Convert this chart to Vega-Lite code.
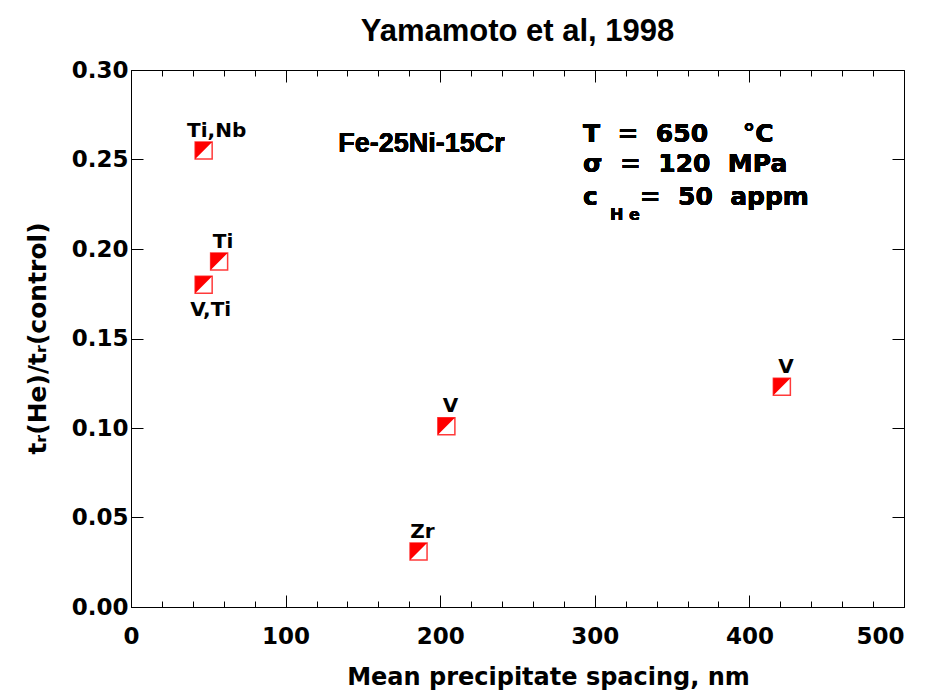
{
  "$schema": "https://vega.github.io/schema/vega-lite/v6.json",
  "autosize": {"type": "none"},
  "padding": {"left": 131, "top": 70, "right": 44, "bottom": 85},
  "width": 773,
  "height": 537,
  "title": {
    "text": "Yamamoto et al, 1998",
    "font": "Liberation Sans",
    "fontSize": 31,
    "fontWeight": "bold",
    "color": "black",
    "anchor": "middle",
    "baseline": "alphabetic",
    "offset": -13
  },
  "config": {
    "view": {"stroke": "black", "strokeWidth": 1},
    "axis": {
      "domainColor": "black",
      "tickColor": "black",
      "labelColor": "black",
      "titleColor": "black",
      "grid": false,
      "labelFont": "DejaVu Sans",
      "labelFontWeight": "bold",
      "titleFont": "DejaVu Sans",
      "titleFontWeight": "bold"
    }
  },
  "data": {
    "values": [
      {"spacing": 47, "ratio": 0.255, "alloy": "Ti,Nb"},
      {"spacing": 57, "ratio": 0.193, "alloy": "Ti"},
      {"spacing": 47, "ratio": 0.180, "alloy": "V,Ti"},
      {"spacing": 204, "ratio": 0.101, "alloy": "V"},
      {"spacing": 186, "ratio": 0.031, "alloy": "Zr"},
      {"spacing": 421, "ratio": 0.123, "alloy": "V"}
    ]
  },
  "layer": [
    {
      "mark": {"type": "point", "shape": "square", "filled": true, "fill": "white", "stroke": "#ff3a3a", "strokeWidth": 1.5, "size": 289, "opacity": 1},
      "encoding": {
        "x": {
          "field": "spacing",
          "type": "quantitative",
          "scale": {"domain": [0, 500], "nice": false, "zero": false},
          "axis": {
            "orient": "bottom",
            "values": [0, 20, 40, 60, 80, 100, 120, 140, 160, 180, 200, 220, 240, 260, 280, 300, 320, 340, 360, 380, 400, 420, 440, 460, 480, 500],
            "labelExpr": "datum.value % 100 === 0 ? datum.label : ''",
            "format": "d",
            "tickSize": {"condition": {"test": "datum.value % 100 === 0", "value": -12}, "value": -6},
            "labelPadding": 30,
            "labelFontSize": 23,
            "labelAlign": {"condition": {"test": "datum.value === 500", "value": "right"}, "value": "center"},
            "title": "Mean precipitate spacing, nm",
            "titleFontSize": 24,
            "titleX": 417,
            "titleY": 77,
            "titleAlign": "center",
            "titleBaseline": "alphabetic"
          }
        },
        "y": {
          "field": "ratio",
          "type": "quantitative",
          "scale": {"domain": [0, 0.3], "nice": false, "zero": false},
          "axis": {
            "orient": "left",
            "values": [0, 0.05, 0.1, 0.15, 0.2, 0.25, 0.3],
            "format": ".2f",
            "tickSize": -12,
            "labelPadding": 15,
            "labelFontSize": 23,
            "labelBaseline": "middle",
            "title": "tᵣ(He)/tᵣ(control)",
            "titleFontSize": 25,
            "titleX": -94,
            "titleY": 268,
            "titleAlign": "center",
            "titleBaseline": "middle",
            "titleAngle": -90
          }
        }
      }
    },
    {
      "mark": {"type": "point", "shape": "M-1,-1L1,-1L-1,1Z", "filled": true, "fill": "#ff0000", "strokeWidth": 0, "size": 289, "opacity": 1},
      "encoding": {
        "x": {
          "field": "spacing",
          "type": "quantitative",
          "axis": {
            "orient": "top",
            "values": [0, 20, 40, 60, 80, 100, 120, 140, 160, 180, 200, 220, 240, 260, 280, 300, 320, 340, 360, 380, 400, 420, 440, 460, 480, 500],
            "labels": false,
            "domain": false,
            "tickSize": {"condition": {"test": "datum.value % 100 === 0", "value": -12}, "value": -6},
            "title": null
          }
        },
        "y": {
          "field": "ratio",
          "type": "quantitative",
          "axis": {
            "orient": "right",
            "values": [0, 0.05, 0.1, 0.15, 0.2, 0.25, 0.3],
            "labels": false,
            "domain": false,
            "tickSize": -12,
            "title": null
          }
        }
      }
    },
    {
      "transform": [{"filter": "datum.alloy !== 'Ti,Nb' && datum.alloy !== 'V,Ti'"}],
      "mark": {"type": "text", "font": "DejaVu Sans", "fontWeight": "bold", "fontSize": 20, "align": "center", "baseline": "alphabetic", "dx": 4, "dy": -14, "color": "black"},
      "encoding": {
        "x": {"field": "spacing", "type": "quantitative", "axis": null},
        "y": {"field": "ratio", "type": "quantitative", "axis": null},
        "text": {"field": "alloy"}
      }
    },
    {
      "transform": [{"filter": "datum.alloy === 'Ti,Nb'"}],
      "mark": {"type": "text", "font": "DejaVu Sans", "fontWeight": "bold", "fontSize": 20, "align": "center", "baseline": "alphabetic", "dx": 13, "dy": -14, "color": "black"},
      "encoding": {
        "x": {"field": "spacing", "type": "quantitative", "axis": null},
        "y": {"field": "ratio", "type": "quantitative", "axis": null},
        "text": {"field": "alloy"}
      }
    },
    {
      "transform": [{"filter": "datum.alloy === 'V,Ti'"}],
      "mark": {"type": "text", "font": "DejaVu Sans", "fontWeight": "bold", "fontSize": 20, "align": "center", "baseline": "alphabetic", "dx": 7, "dy": 31, "color": "black"},
      "encoding": {
        "x": {"field": "spacing", "type": "quantitative", "axis": null},
        "y": {"field": "ratio", "type": "quantitative", "axis": null},
        "text": {"field": "alloy"}
      }
    },
    {
      "mark": {"type": "text", "font": "Liberation Sans", "fontWeight": "bold", "fontSize": 27, "align": "left", "baseline": "alphabetic", "color": "black"},
      "encoding": {
        "x": {"datum": 134, "type": "quantitative", "axis": null},
        "y": {"datum": 0.2542, "type": "quantitative", "axis": null},
        "text": {"value": "Fe-25Ni-15Cr"}
      }
    },
    {
      "mark": {"type": "text", "font": "DejaVu Sans", "fontWeight": "bold", "fontSize": 25, "align": "left", "baseline": "alphabetic", "color": "black"},
      "encoding": {
        "x": {"datum": 292.4, "type": "quantitative", "axis": null},
        "y": {"datum": 0.2598, "type": "quantitative", "axis": null},
        "text": {"value": "T\u00a0\u00a0=\u00a0\u00a0650\u00a0\u00a0\u00a0\u00a0°C"}
      }
    },
    {
      "mark": {"type": "text", "font": "DejaVu Sans", "fontWeight": "bold", "fontSize": 25, "align": "left", "baseline": "alphabetic", "color": "black"},
      "encoding": {
        "x": {"datum": 292.4, "type": "quantitative", "axis": null},
        "y": {"datum": 0.243, "type": "quantitative", "axis": null},
        "text": {"value": "σ\u00a0\u00a0=\u00a0\u00a0120\u00a0\u00a0MPa"}
      }
    },
    {
      "mark": {"type": "text", "font": "DejaVu Sans", "fontWeight": "bold", "fontSize": 25, "align": "left", "baseline": "alphabetic", "color": "black"},
      "encoding": {
        "x": {"datum": 292.4, "type": "quantitative", "axis": null},
        "y": {"datum": 0.2246, "type": "quantitative", "axis": null},
        "text": {"value": "c"}
      }
    },
    {
      "mark": {"type": "text", "font": "DejaVu Sans", "fontWeight": "bold", "fontSize": 16, "align": "left", "baseline": "alphabetic", "color": "black"},
      "encoding": {
        "x": {"datum": 309.8, "type": "quantitative", "axis": null},
        "y": {"datum": 0.2162, "type": "quantitative", "axis": null},
        "text": {"value": "H e"}
      }
    },
    {
      "mark": {"type": "text", "font": "DejaVu Sans", "fontWeight": "bold", "fontSize": 25, "align": "left", "baseline": "alphabetic", "color": "black"},
      "encoding": {
        "x": {"datum": 329, "type": "quantitative", "axis": null},
        "y": {"datum": 0.2246, "type": "quantitative", "axis": null},
        "text": {"value": "=\u00a0\u00a050\u00a0\u00a0appm"}
      }
    }
  ]
}
